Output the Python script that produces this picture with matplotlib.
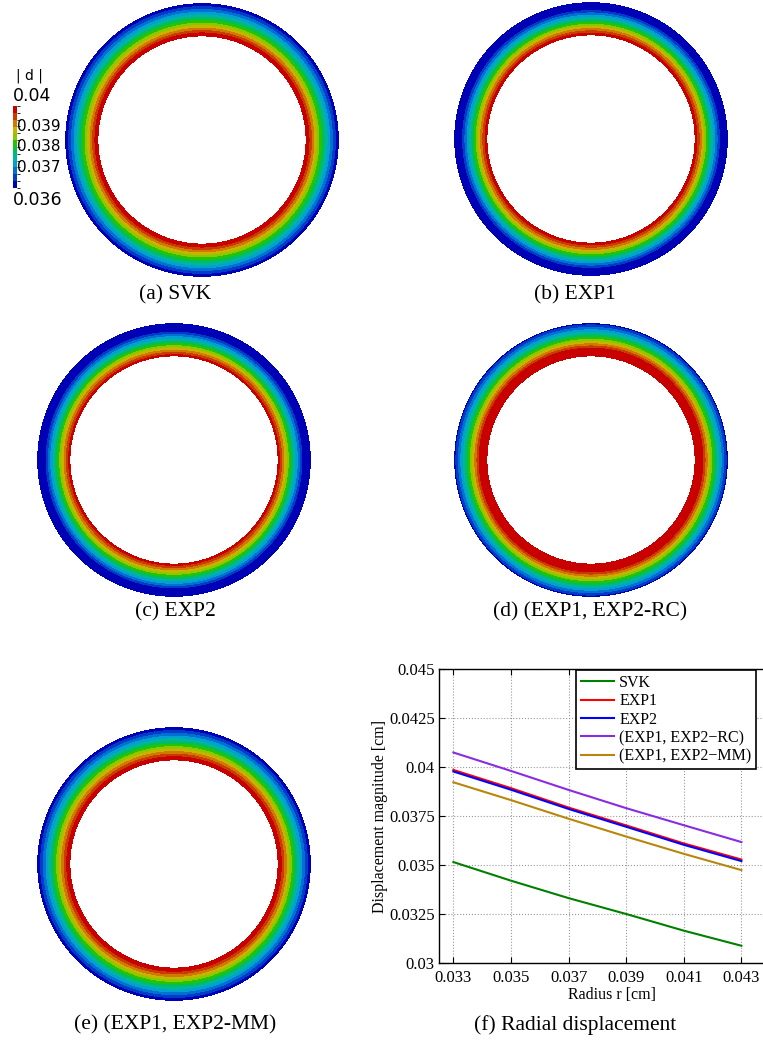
import numpy as np
import matplotlib
matplotlib.use("Agg")
import matplotlib.pyplot as plt
from matplotlib.colors import ListedColormap, BoundaryNorm
from matplotlib.cm import ScalarMappable

# radial samples [cm] and displacement magnitude [cm] per model
radius = [0.033, 0.035, 0.037, 0.039, 0.041, 0.043]
svk = [0.03515, 0.03420, 0.03331, 0.03250, 0.03165, 0.03088]
exp1 = [0.03985, 0.03892, 0.03793, 0.03702, 0.03610, 0.03528]
exp2 = [0.03977, 0.03884, 0.03786, 0.03695, 0.03603, 0.03520]
exp_rc = [0.04074, 0.03980, 0.03883, 0.03790, 0.03703, 0.03617]
exp_mm = [0.03922, 0.03831, 0.03736, 0.03645, 0.03557, 0.03474]

labels = ["SVK", "EXP1", "EXP2", "(EXP1, EXP2\u2212RC)", "(EXP1, EXP2\u2212MM)"]
captions = ["(a) SVK", "(b) EXP1", "(c) EXP2", "(d) (EXP1, EXP2-RC)",
            "(e) (EXP1, EXP2-MM)", "(f) Radial displacement"]
cb_range = [0.036, 0.04]
cb_ticks = [0.037, 0.038, 0.039]
yticks = [0.03, 0.0325, 0.035, 0.0375, 0.04, 0.0425, 0.045]
ytick_labels = ["0.03", "0.0325", "0.035", "0.0375", "0.04", "0.0425", "0.045"]
xticks = [0.033, 0.035, 0.037, 0.039, 0.041, 0.043]
xtick_labels = ["0.033", "0.035", "0.037", "0.039", "0.041", "0.043"]

W, H = 763, 1047
fig = plt.figure(figsize=(W / 100, H / 100), dpi=100)
serif = ["Liberation Serif", "DejaVu Serif"]


def px_axes(x0, y0, w, h):
    return fig.add_axes([x0 / W, 1 - (y0 + h) / H, w / W, h / H])


cmap = ListedColormap([
    "#0000b4", "#003cc8", "#0070d2", "#00a0d2", "#00b4a0", "#00be5a",
    "#28c300", "#8cc800", "#c8b400", "#d27800", "#c83c00", "#c80000"])
cmap.set_under("#0000b4")
cmap.set_over("#c80000")

theta = np.linspace(0, 2 * np.pi, 721)
X = np.outer(radius, np.cos(theta))
Y = np.outer(radius, np.sin(theta))


def ring(cx, cy, vals, vmin, vmax):
    lim = 0.0445
    s = 2 * 136 * lim / 0.043
    ax = px_axes(cx - s / 2, cy - s / 2, s, s)
    Z = np.repeat(np.array(vals)[:, None], len(theta), axis=1)
    levels = np.linspace(vmin, vmax, 13)
    cs = ax.contourf(X, Y, Z, levels=levels, cmap=cmap, extend="both")
    cs.set_edgecolor("face")
    cs.set_linewidth(0.4)
    ax.set_xlim(-lim, lim)
    ax.set_ylim(-lim, lim)
    ax.set_aspect("equal")
    ax.axis("off")
    return ax


ring(202, 140, svk, min(svk), max(svk))
ring(591, 139, exp1, *cb_range)
ring(174, 460, exp2, *cb_range)
ring(591, 460, exp_rc, *cb_range)
ring(174, 864, exp_mm, min(exp_mm), max(exp_mm))

# colorbar of panel (a)
cax = px_axes(13, 106, 4, 82)
sm = ScalarMappable(norm=BoundaryNorm(np.linspace(cb_range[0], cb_range[1], 13), 12), cmap=cmap)
cb = fig.colorbar(sm, cax=cax, ticks=[])
cb.outline.set_visible(False)
for t in cb_ticks:
    yy = 106 + 82 * (cb_range[1] - t) / (cb_range[1] - cb_range[0])
    fig.text(17 / W, 1 - yy / H, str(t), fontsize=11, va="center", ha="left")
fig.text(13 / W, 1 - 96 / H, "0.04", fontsize=12.5, va="center", ha="left")
fig.text(13 / W, 1 - 200 / H, "0.036", fontsize=12.5, va="center", ha="left")
fig.text(29 / W, 1 - 76 / H, "| d |", fontsize=10, va="center", ha="center")

# captions
cap_pos = [(175, 295), (575, 295), (175, 612), (590, 612), (175, 1025), (575, 1025)]
for (x, y), c in zip(cap_pos, captions):
    fig.text(x / W, 1 - y / H, c, fontsize=15.5, family=serif, ha="center", va="center")

# panel (f) -- right part runs off the page like in the original
ax_w = 345.6
ax = px_axes(439, 669, ax_w, 294)
series = [svk, exp1, exp2, exp_rc, exp_mm]
colors = ["#008000", "#ff0000", "#0000ff", "#8a2be2", "#b8860b"]
for vals, col, lab in zip(series, colors, labels):
    ax.plot(radius, vals, color=col, lw=1.5, label=lab)
ax.set_xlim(0.0325, 0.0445)
ax.set_ylim(0.03, 0.045)
ax.set_xticks(xticks)
ax.set_xticklabels(xtick_labels, family=serif, fontsize=12)
ax.set_yticks(yticks)
ax.set_yticklabels(ytick_labels, family=serif, fontsize=12)
ax.tick_params(direction="in", top=True, right=True, length=4, width=0.8)
ax.tick_params(axis="x", pad=5)
ax.tick_params(axis="y", pad=3)
ax.grid(True, linestyle=":", color="#999999", lw=0.8)
for sp in ax.spines.values():
    sp.set_linewidth(1.0)
ax.set_xlabel("Radius r [cm]", family=serif, fontsize=11.5, labelpad=1)
ax.set_ylabel("Displacement magnitude [cm]", family=serif, fontsize=11.5, labelpad=1)
leg = ax.legend(loc="upper left", bbox_to_anchor=((576 - 439) / ax_w, 1 - 1 / 294),
                prop={"family": serif, "size": 11.5}, frameon=True, fancybox=False,
                framealpha=1, edgecolor="black", handlelength=2.1, handletextpad=0.3,
                labelspacing=0.15, borderpad=0.3, borderaxespad=0)
leg.get_frame().set_linewidth(1.2)

fig.savefig("out.png", dpi=100)
